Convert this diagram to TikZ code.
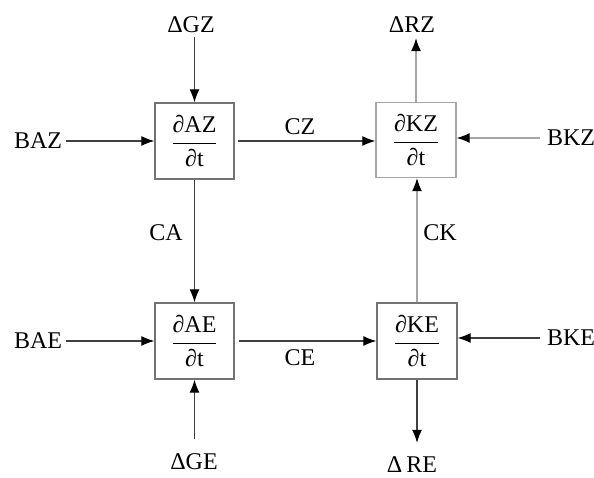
\documentclass[tikz,border=0pt]{standalone}
\usepackage{amsmath}
\usepackage{fontspec}
\setmainfont{Liberation Serif}
\usetikzlibrary{arrows.meta}
\newcommand\dfr[2]{$\genfrac{}{}{1.3pt}{0}{\hbox{#1}}{\hbox{#2}}$}
\begin{document}
\begin{tikzpicture}[x=1pt,y=1pt,
  font=\fontsize{24}{28}\selectfont,
  box/.style={draw=black!55,line width=1.3pt,minimum width=79pt,minimum height=76pt,inner sep=0pt},
  lab/.style={inner sep=4pt},
  arr/.style={draw=black!75,line width=1.2pt,-{Latex[length=13pt,width=10pt,color=black]}},
  larr/.style={arr,draw=black!35}]
\useasboundingbox (0,0) rectangle (594,478);
% boxes
\node[box] (AZ) at (194.5,337) {\dfr{∂AZ}{∂t}};
\node[box,draw=black!35,minimum width=80pt,minimum height=75pt] (KZ) at (416,338) {\dfr{∂KZ}{∂t}};
\node[box] (AE) at (194.5,137) {\dfr{∂AE}{∂t}};
\node[box,minimum width=80pt] (KE) at (417,137) {\dfr{∂KE}{∂t}};
% labels
\node[lab] (GZ) at (191,453) {ΔGZ};
\node[lab] (RZ) at (412,453) {ΔRZ};
\node[lab] (GE) at (194,16) {ΔGE};
\node[lab] (RE) at (412,13) {Δ\,RE};
\node[lab] (BAZ) at (38,337) {BAZ};
\node[lab] (BAE) at (38,137) {BAE};
\node[lab] (BKZ) at (571,340) {BKZ};
\node[lab] (BKE) at (571,140) {BKE};
\node[lab] (CZ) at (300,351) {CZ};
\node[lab] (CE) at (300,120) {CE};
\node[lab] (CA) at (166,245) {CA};
\node[lab] (CK) at (440,245) {CK};
% connectors
\draw[arr] (GZ.south -| AZ.north) -- (AZ.north);
\draw[larr,shorten >=1pt] (KZ.north) -- (RZ.south -| KZ.north);
\draw[arr,shorten <=10.5pt] (GE.north -| AE.south) -- (AE.south);
\draw[arr,shorten >=10pt] (KE.south) -- (RE.north -| KE.south);
\draw[arr] (BAZ.east) -- (BAZ.east -| AZ.west);
\draw[arr] (BAE.east) -- (BAE.east -| AE.west);
\draw[larr,shorten <=3pt] (BKZ.west) -- (BKZ.west -| KZ.east);
\draw[arr,shorten <=3pt] (BKE.west) -- (BKE.west -| KE.east);
\draw[arr,shorten <=3pt] (AZ.east) -- (AZ.east -| KZ.west);
\draw[arr,shorten <=4pt] (AE.east) -- (AE.east -| KE.west);
\draw[arr] (AZ.south) -- (AE.north);
\draw[larr] (KE.north) -- (KE.north |- KZ.south);
\end{tikzpicture}
\end{document}
